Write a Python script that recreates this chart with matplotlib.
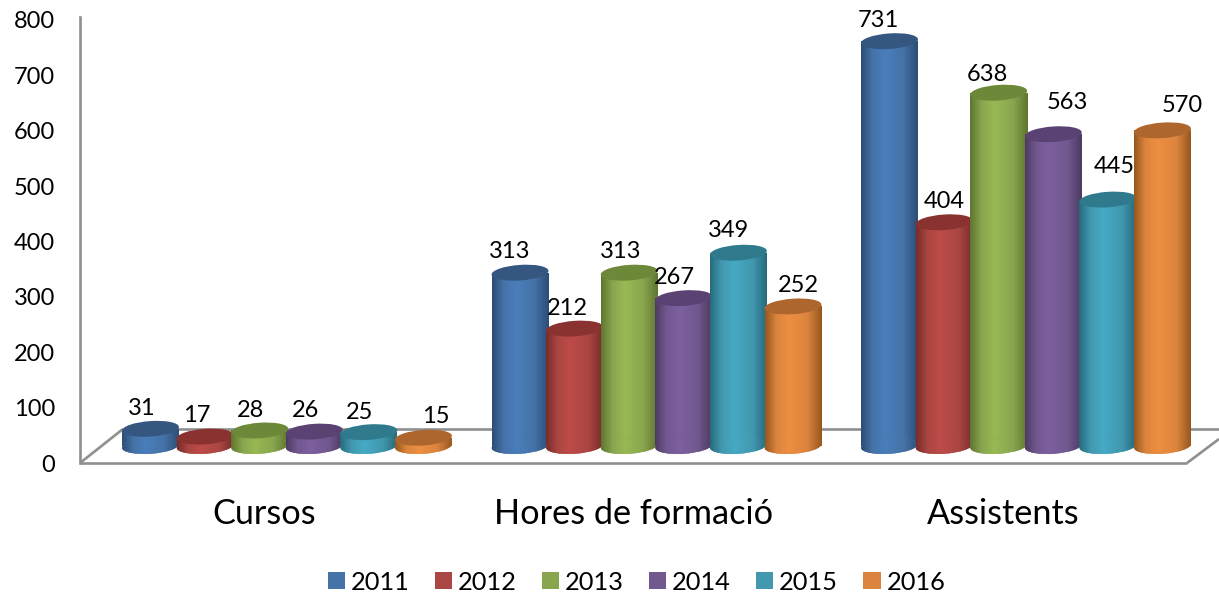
import numpy as np
import matplotlib
matplotlib.use("Agg")
import matplotlib.pyplot as plt
from matplotlib.colors import LinearSegmentedColormap
from matplotlib.patches import Ellipse, Patch
from matplotlib.transforms import IdentityTransform, ScaledTranslation

categories = ["Cursos", "Hores de formació", "Assistents"]
years = ["2011", "2012", "2013", "2014", "2015", "2016"]
v2011 = [31, 313, 731]
v2012 = [17, 212, 404]
v2013 = [28, 313, 638]
v2014 = [26, 267, 563]
v2015 = [25, 349, 445]
v2016 = [15, 252, 570]
series = [v2011, v2012, v2013, v2014, v2015, v2016]
y_ticks = [0, 100, 200, 300, 400, 500, 600, 700, 800]

# colors: legend swatch, light middle of the cylinder, dark edge, top cap
swatch = ["#4572A7", "#AA4643", "#89A54E", "#71588F", "#4198AF", "#DB843D"]
light = ["#4A7EBB", "#BE4B48", "#98B954", "#7D5FA0", "#46AAC4", "#EE8F42"]
edge = ["#2C4D75", "#772C2A", "#5F7530", "#4D3B62", "#276A7C", "#96571F"]
cap = ["#34567F", "#8A3230", "#6D8838", "#5A4373", "#307A8E", "#AD662E"]

# label offsets from the top of each bar in pixels, one row per series
label_dx = [[-9, -10, -11], [-8, -7, 0], [-9, -9, -11],
            [-9, -9, 14], [-9, -10, 6], [12, 5, 20]]
label_dy = [[20, 21, 21], [21, 20, 21], [20, 21, 18],
            [21, 21, 32], [20, 22, 33], [21, 21, 25]]

W, H = 1219, 592
GRAY = "#8F8F8F"
FONT = "Lato"
BASE = 30.7  # the floor of the 3D box lifts the bars off zero
STEP = 369.5  # pixels between category centres
BAR_PX = 54.6
CYL_W = 57
CYL_H = 15.5
TILT = 4


def px_line(fig, xs, ys):
    # floor lines of the fake 3D box, given in image pixels from the top left
    fig.add_artist(plt.Line2D(xs, [H - y for y in ys], transform=IdentityTransform(),
                              color=GRAY, lw=1.9, solid_capstyle="butt", zorder=1))


def ellipse(ax, x, y, color, zorder):
    e = Ellipse((0, 0), CYL_W, CYL_H, angle=TILT, facecolor=color, edgecolor="none",
                transform=IdentityTransform() + ScaledTranslation(x, y, ax.transData),
                zorder=zorder)
    ax.add_patch(e)
    return e


def main():
    plt.rcParams["font.family"] = [FONT, "DejaVu Sans"]
    fig = plt.figure(figsize=(W / 100, H / 100), dpi=100)
    ax = fig.add_axes([80 / W, (H - 463) / H, (W - 80) / W, 446 / H])
    ax.patch.set_alpha(0)
    ax.set_zorder(5)
    ax.set_xlim((80 - 287) / STEP, (W - 287) / STEP)
    ax.set_ylim(0, 805.4)

    bar_w = BAR_PX / STEP
    draw_w = CYL_W / STEP
    grad = np.linspace(0, 1, 128).reshape(1, -1)
    for i, values in enumerate(series):
        cmap = LinearSegmentedColormap.from_list(
            "cyl" + years[i],
            [(0, edge[i]), (0.2, swatch[i]), (0.42, light[i]), (0.75, swatch[i]), (1, edge[i])])
        z = 3 + i
        for j, v in enumerate(values):
            x = j + (i - 2.5) * bar_w
            rect = ax.bar(x, v, draw_w, bottom=BASE, color=swatch[i], zorder=z)[0]
            im = ax.imshow(grad, cmap=cmap, aspect="auto", zorder=z,
                           extent=(x - draw_w / 2, x + draw_w / 2, BASE, BASE + v))
            im.set_clip_path(rect)
            bottom = ellipse(ax, x, BASE, swatch[i], z)
            im2 = ax.imshow(grad, cmap=cmap, aspect="auto", zorder=z,
                            extent=(x - draw_w / 2, x + draw_w / 2, BASE - 20, BASE + 20))
            im2.set_clip_path(bottom)
            ellipse(ax, x, BASE + v, cap[i], z + 0.5)
            ax.annotate(str(v), (x, BASE + v), xytext=(label_dx[i][j], label_dy[i][j]),
                        textcoords="offset pixels", ha="center", va="center",
                        fontsize=17, color="#000000", zorder=20, annotation_clip=False)

    ax.set_xlim((80 - 287) / STEP, (W - 287) / STEP)
    ax.set_ylim(0, 805.4)

    for s in ["top", "right", "bottom"]:
        ax.spines[s].set_visible(False)
    ax.spines["left"].set_color(GRAY)
    ax.spines["left"].set_linewidth(1.9)
    ax.set_yticks(y_ticks)
    ax.tick_params(axis="y", length=0, pad=18, labelsize=17)
    ax.set_xticks(range(len(categories)))
    ax.set_xticklabels(categories, fontsize=24.7)
    ax.tick_params(axis="x", length=0, pad=25)
    shift = ScaledTranslation(-23, 0, IdentityTransform())
    for t in ax.get_xticklabels():
        t.set_transform(t.get_transform() + shift)

    px_line(fig, [80, 1187], [463, 463])
    px_line(fig, [80, 123], [463, 429])
    px_line(fig, [123, W], [429, 429])
    px_line(fig, [1187, W], [463, 439])

    handles = [Patch(facecolor=c, edgecolor="none") for c in swatch]
    fig.legend(handles, years, loc="center", bbox_to_anchor=(636.5 / W, (H - 582) / H),
               ncol=6, frameon=False, fontsize=18.3, handlelength=0.67, handleheight=0.67,
               handletextpad=0.23, columnspacing=1.0, borderpad=0, borderaxespad=0)

    fig.savefig("out.png", dpi=100)


if __name__ == "__main__":
    main()
